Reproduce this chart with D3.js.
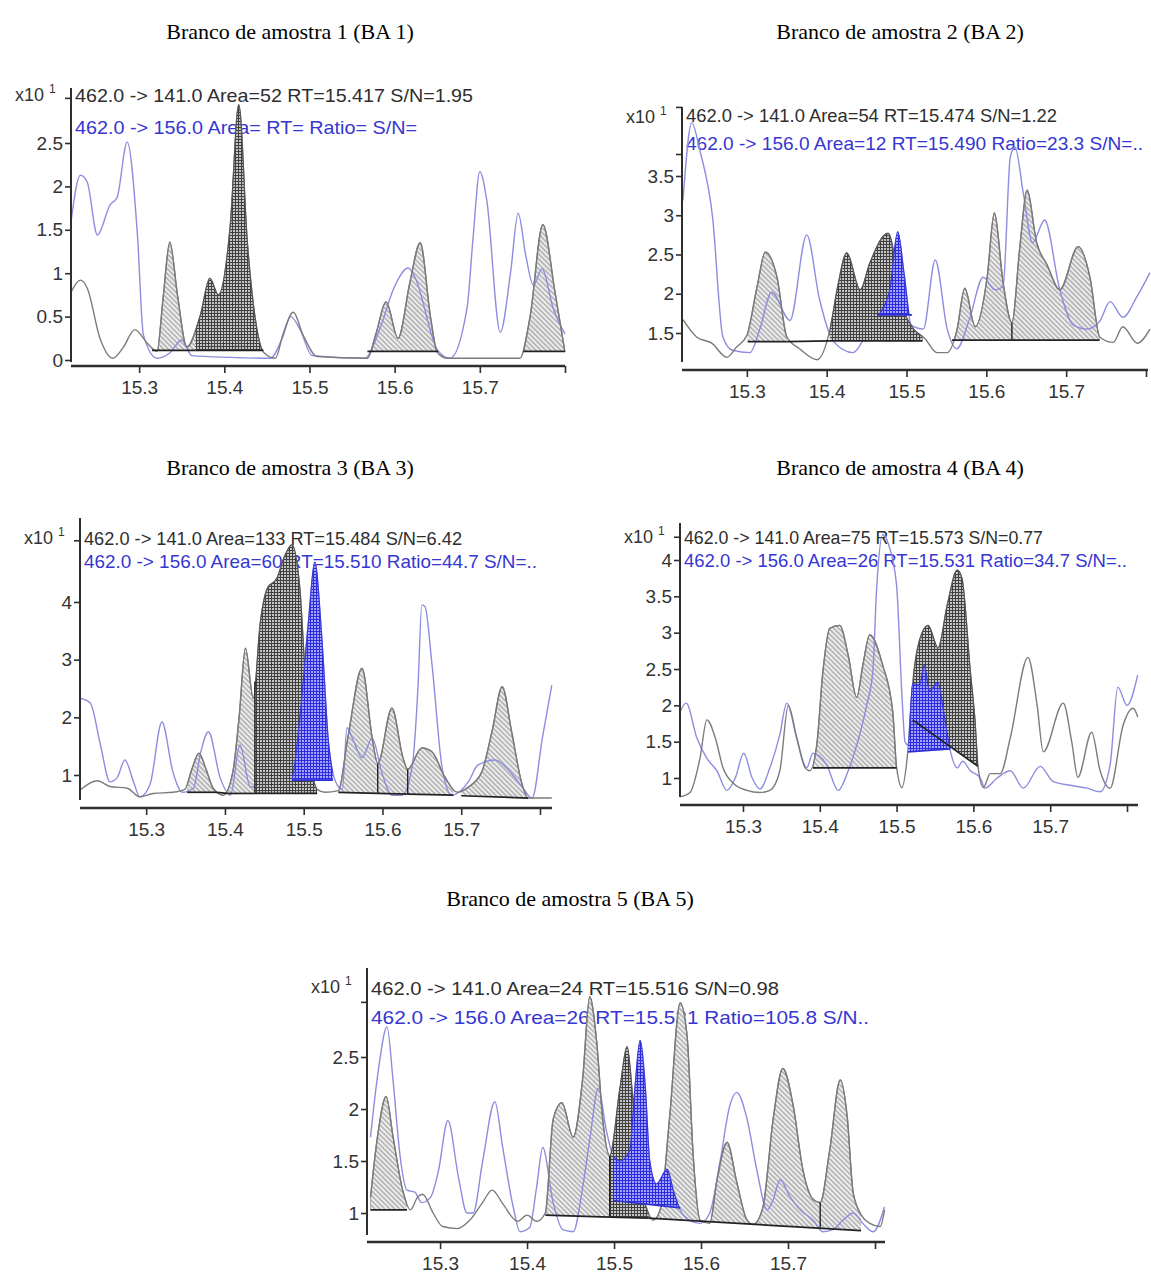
<!DOCTYPE html>
<html>
<head>
<meta charset="utf-8">
<script src="https://cdn.jsdelivr.net/npm/d3@7/dist/d3.min.js"></script>
<style>
  body { margin: 0; background: #fff; }
  svg { display: block; }
</style>
</head>
<body>
<svg id="chart" width="1151" height="1275"></svg>
<script>
(function (d3) {
  'use strict';

  // ---- data (RT in min, intensity in x10^1) ----
  var titles = ['Branco de amostra 1 (BA 1)', 'Branco de amostra 2 (BA 2)', 'Branco de amostra 3 (BA 3)',
                'Branco de amostra 4 (BA 4)', 'Branco de amostra 5 (BA 5)'];
  var head141 = ['462.0 -> 141.0 Area=52 RT=15.417 S/N=1.95',
                 '462.0 -> 141.0 Area=54 RT=15.474 S/N=1.22',
                 '462.0 -> 141.0 Area=133 RT=15.484 S/N=6.42',
                 '462.0 -> 141.0 Area=75 RT=15.573 S/N=0.77',
                 '462.0 -> 141.0 Area=24 RT=15.516 S/N=0.98'];
  var head156 = ['462.0 -> 156.0 Area= RT= Ratio= S/N=',
                 '462.0 -> 156.0 Area=12 RT=15.490 Ratio=23.3 S/N=..',
                 '462.0 -> 156.0 Area=60 RT=15.510 Ratio=44.7 S/N=..',
                 '462.0 -> 156.0 Area=26 RT=15.531 Ratio=34.7 S/N=..',
                 '462.0 -> 156.0 Area=26 RT=15.531  Ratio=105.8 S/N..'];

  var xTicks = [15.3, 15.4, 15.5, 15.6, 15.7];
  var xEndTick = 15.8;
  var xDomains = [[15.22, 15.8], [15.22, 15.8], [15.216, 15.8], [15.218, 15.8], [15.216, 15.8]];
  var yDomains = [[0, 2.5], [1.5, 3.5], [1, 4], [1, 4], [1, 2.5]];
  var yTicks = [[0, 0.5, 1, 1.5, 2, 2.5], [1.5, 2, 2.5, 3, 3.5], [1, 2, 3, 4],
                [1, 1.5, 2, 2.5, 3, 3.5, 4], [1, 1.5, 2, 2.5]];
  var topTicks = [[3.02], [3.78, 4.38], [5.07], [4.32], [3.03]];

  // BA 1
  var p1Gray = [[15.220,0.78],[15.231,0.92],[15.239,0.83],[15.254,0.25],[15.269,0.02],[15.281,0.14],[15.295,0.35],
    [15.309,0.20],[15.321,0.10],[15.328,0.70],[15.336,1.36],[15.345,0.75],[15.356,0.15],[15.372,0.52],[15.383,0.94],
    [15.393,0.75],[15.407,1.55],[15.417,2.94],[15.427,1.36],[15.438,0.37],[15.446,0.09],[15.460,0.02],[15.469,0.30],
    [15.481,0.55],[15.492,0.30],[15.509,0.04],[15.568,0.02],[15.578,0.30],[15.590,0.67],[15.604,0.25],[15.618,0.90],
    [15.630,1.35],[15.642,0.50],[15.650,0.09],[15.662,0.02],[15.747,0.02],[15.759,0.50],[15.774,1.56],[15.788,0.80],
    [15.800,0.09]];
  var p1Blue = [[15.220,1.59],[15.231,2.13],[15.239,2.05],[15.251,1.44],[15.266,1.79],[15.274,1.87],[15.286,2.51],
    [15.298,1.44],[15.305,0.29],[15.321,0.02],[15.336,0.08],[15.350,0.23],[15.362,0.05],[15.407,0.03],[15.454,0.02],
    [15.468,0.25],[15.478,0.50],[15.489,0.35],[15.503,0.05],[15.565,0.02],[15.583,0.37],[15.600,0.85],[15.616,1.06],
    [15.624,0.95],[15.650,0.12],[15.665,0.02],[15.685,0.60],[15.692,1.40],[15.700,2.17],[15.708,1.85],[15.724,0.32],
    [15.736,1.00],[15.745,1.69],[15.754,1.20],[15.763,0.86],[15.773,1.05],[15.786,0.60],[15.800,0.30]];
  var p1Spans = [[15.315,15.366,0.11,0.11,'light'],[15.366,15.446,0.11,0.11,'dark'],
    [15.568,15.651,0.10,0.10,'light'],[15.751,15.800,0.10,0.10,'light']];
  var p1Drops = [];

  // BA 2
  var p2Gray = [[15.220,1.67],[15.237,1.45],[15.256,1.37],[15.275,1.19],[15.287,1.32],[15.300,1.47],[15.313,2.10],
    [15.323,2.53],[15.338,2.20],[15.350,1.45],[15.366,1.30],[15.388,1.16],[15.404,1.54],[15.414,2.10],[15.425,2.52],
    [15.442,2.05],[15.454,2.39],[15.477,2.77],[15.495,1.83],[15.508,1.56],[15.523,1.43],[15.538,1.25],[15.551,1.25],
    [15.563,1.53],[15.573,2.07],[15.586,1.58],[15.601,2.21],[15.610,3.03],[15.621,2.14],[15.632,1.63],[15.642,2.60],
    [15.651,3.32],[15.663,2.65],[15.676,2.37],[15.692,2.05],[15.715,2.60],[15.730,2.20],[15.742,1.45],[15.759,1.38],
    [15.771,1.58],[15.789,1.37],[15.805,1.55]];
  var p2Blue = [[15.220,3.19],[15.231,4.18],[15.241,3.83],[15.257,2.98],[15.270,1.45],[15.282,1.28],[15.304,1.25],
    [15.316,1.54],[15.331,2.02],[15.354,1.66],[15.375,2.75],[15.391,1.93],[15.408,1.40],[15.433,1.25],[15.448,1.45],
    [15.465,1.72],[15.479,2.05],[15.489,2.79],[15.497,2.25],[15.506,1.60],[15.521,1.55],[15.536,2.43],[15.551,1.55],
    [15.563,1.30],[15.579,1.68],[15.596,2.21],[15.611,2.05],[15.621,2.10],[15.630,3.74],[15.636,3.87],[15.646,3.30],
    [15.658,2.65],[15.673,2.94],[15.692,2.05],[15.709,1.60],[15.726,1.55],[15.742,1.65],[15.755,1.90],[15.771,1.70],
    [15.789,1.97],[15.805,2.27]];
  var p2Spans = [[15.301,15.350,1.39,1.39,'light'],[15.350,15.404,1.39,1.40,'base'],[15.404,15.520,1.40,1.40,'dark'],
    [15.464,15.507,1.73,1.73,'blue'],[15.557,15.632,1.41,1.41,'light'],[15.632,15.742,1.41,1.41,'light']];
  var p2Drops = [[15.632,1.41]];

  // BA 3
  var p3Gray = [[15.216,0.74],[15.238,0.90],[15.254,0.80],[15.276,0.77],[15.292,0.62],[15.309,0.68],[15.334,0.70],
    [15.349,0.75],[15.358,1.10],[15.367,1.38],[15.376,1.10],[15.385,0.77],[15.398,0.65],[15.410,1.05],[15.418,2.00],
    [15.426,3.20],[15.436,2.33],[15.445,3.65],[15.454,4.24],[15.466,4.41],[15.476,4.80],[15.485,4.99],[15.495,4.24],
    [15.504,2.21],[15.511,1.05],[15.517,0.75],[15.527,0.70],[15.544,0.73],[15.556,1.64],[15.574,2.85],[15.587,1.64],
    [15.594,1.20],[15.612,2.16],[15.626,1.30],[15.632,1.10],[15.650,1.47],[15.663,1.40],[15.679,0.97],[15.695,0.70],
    [15.709,0.79],[15.726,1.05],[15.739,1.75],[15.752,2.53],[15.764,1.75],[15.777,0.85],[15.785,0.60],[15.815,0.60]];
  var p3Blue = [[15.216,2.33],[15.229,2.25],[15.242,1.52],[15.254,0.88],[15.263,0.95],[15.273,1.26],[15.284,0.88],
    [15.292,0.62],[15.305,0.84],[15.320,1.92],[15.334,1.05],[15.346,0.70],[15.360,0.77],[15.369,1.38],[15.379,1.75],
    [15.394,0.95],[15.407,0.65],[15.419,1.52],[15.432,0.80],[15.457,0.75],[15.485,0.95],[15.495,1.99],[15.506,3.65],
    [15.514,4.69],[15.523,3.37],[15.531,1.64],[15.540,0.90],[15.549,0.75],[15.555,1.82],[15.563,1.60],[15.574,1.30],
    [15.587,1.64],[15.599,1.05],[15.612,0.65],[15.625,0.65],[15.638,1.17],[15.645,2.50],[15.650,3.95],[15.654,3.92],
    [15.663,2.90],[15.676,1.10],[15.688,0.65],[15.709,0.88],[15.721,1.17],[15.743,1.26],[15.759,1.10],[15.777,0.80],
    [15.790,0.60],[15.803,1.64],[15.815,2.56]];
  var p3Spans = [[15.352,15.390,0.70,0.70,'light'],[15.390,15.403,0.70,0.68,'base'],[15.403,15.438,0.68,0.68,'light'],
    [15.438,15.517,0.68,0.68,'dark'],[15.485,15.537,0.91,0.91,'blue'],[15.544,15.594,0.70,0.68,'light'],
    [15.594,15.632,0.68,0.67,'light'],[15.632,15.690,0.67,0.65,'light'],[15.700,15.785,0.64,0.60,'light']];
  var p3Drops = [[15.438,0.68],[15.594,0.68],[15.632,0.67]];

  // BA 4
  var p4Gray = [[15.218,0.74],[15.231,0.80],[15.244,1.27],[15.253,1.80],[15.264,1.55],[15.274,1.14],[15.287,0.93],
    [15.305,0.83],[15.322,0.80],[15.335,0.83],[15.348,1.10],[15.359,2.00],[15.370,1.55],[15.381,1.14],[15.387,1.10],
    [15.396,1.45],[15.404,2.46],[15.413,3.06],[15.426,3.10],[15.437,2.69],[15.448,2.11],[15.456,2.55],[15.465,2.97],
    [15.482,2.55],[15.495,1.91],[15.500,1.15],[15.507,0.87],[15.514,1.30],[15.521,2.30],[15.530,2.90],[15.541,3.10],
    [15.554,2.79],[15.566,3.38],[15.579,3.86],[15.585,3.75],[15.596,2.46],[15.602,1.80],[15.606,1.16],[15.613,0.87],
    [15.622,1.06],[15.635,1.06],[15.648,1.55],[15.671,2.66],[15.683,2.00],[15.691,1.36],[15.717,2.03],[15.728,1.50],
    [15.736,1.01],[15.754,1.63],[15.765,1.10],[15.778,0.86],[15.795,1.73],[15.808,1.96],[15.814,1.84]];
  var p4Blue = [[15.218,1.91],[15.226,2.03],[15.240,1.55],[15.253,1.27],[15.266,1.10],[15.279,0.83],[15.290,1.00],
    [15.301,1.34],[15.312,1.00],[15.322,0.85],[15.335,1.14],[15.348,1.60],[15.357,2.03],[15.370,1.55],[15.383,1.14],
    [15.391,1.34],[15.409,1.18],[15.424,0.83],[15.437,1.10],[15.448,1.45],[15.461,2.00],[15.469,2.46],[15.474,3.60],
    [15.482,4.35],[15.490,4.20],[15.500,3.65],[15.507,2.13],[15.511,1.50],[15.515,1.45],[15.521,2.30],[15.530,2.28],
    [15.536,2.55],[15.543,2.20],[15.554,2.32],[15.560,2.00],[15.570,1.37],[15.579,1.14],[15.586,1.23],[15.596,1.10],
    [15.609,1.00],[15.615,0.86],[15.631,1.00],[15.648,1.10],[15.665,0.86],[15.687,1.16],[15.704,0.95],[15.726,0.90],
    [15.748,0.86],[15.765,0.81],[15.778,1.18],[15.788,2.25],[15.800,2.00],[15.814,2.42]];
  var p4Spans = [[15.391,15.500,1.14,1.14,'light'],[15.521,15.606,1.80,1.16,'dark'],[15.515,15.570,1.36,1.40,'blue']];
  var p4Drops = [];

  // BA 5
  var p5Gray = [[15.220,1.15],[15.228,1.73],[15.238,2.12],[15.246,1.73],[15.257,1.22],[15.266,1.03],[15.274,1.15],
    [15.280,1.18],[15.292,1.00],[15.303,0.87],[15.320,0.85],[15.334,0.93],[15.348,1.09],[15.360,1.22],[15.372,1.09],
    [15.389,0.92],[15.400,0.98],[15.411,0.92],[15.421,1.00],[15.430,1.90],[15.440,2.06],[15.453,1.73],[15.464,2.30],
    [15.472,3.08],[15.480,2.65],[15.487,1.90],[15.495,1.55],[15.507,2.21],[15.515,2.60],[15.522,2.05],[15.530,1.30],
    [15.538,1.03],[15.545,0.93],[15.553,1.03],[15.564,1.93],[15.576,3.02],[15.584,2.70],[15.591,1.55],[15.599,0.93],
    [15.610,0.90],[15.618,1.30],[15.630,1.68],[15.641,1.30],[15.653,0.93],[15.660,0.89],[15.671,1.05],[15.683,1.91],
    [15.694,2.39],[15.706,2.03],[15.717,1.42],[15.729,1.13],[15.737,1.10],[15.748,1.61],[15.760,2.28],[15.768,1.93],
    [15.775,1.19],[15.785,0.97],[15.794,0.90],[15.806,0.87],[15.811,1.03]];
  var p5Blue = [[15.220,1.73],[15.229,2.37],[15.239,2.79],[15.246,2.27],[15.254,1.55],[15.262,1.22],[15.271,1.20],
    [15.279,1.10],[15.289,1.15],[15.298,1.40],[15.309,1.89],[15.321,1.35],[15.331,1.00],[15.338,1.00],[15.349,1.50],
    [15.363,2.07],[15.372,1.63],[15.384,1.06],[15.392,0.82],[15.403,0.86],[15.411,1.25],[15.418,1.63],[15.430,1.10],
    [15.441,0.84],[15.453,0.82],[15.464,1.25],[15.472,1.70],[15.482,2.20],[15.491,1.80],[15.499,1.55],[15.507,1.50],
    [15.518,1.60],[15.524,2.20],[15.530,2.66],[15.536,2.20],[15.541,1.50],[15.549,1.28],[15.561,1.42],[15.568,1.22],
    [15.576,1.03],[15.587,0.93],[15.599,0.90],[15.610,1.00],[15.622,1.50],[15.633,2.03],[15.641,2.16],[15.653,1.90],
    [15.664,1.42],[15.676,1.03],[15.683,1.13],[15.691,1.32],[15.702,1.16],[15.714,1.03],[15.729,0.93],[15.740,0.82],
    [15.752,0.84],[15.763,0.93],[15.775,1.00],[15.786,0.90],[15.798,0.82],[15.811,1.06]];
  var p5Spans = [[15.220,15.262,1.03,1.03,'light'],[15.421,15.495,0.98,0.96,'light'],[15.495,15.540,0.96,0.95,'dark'],
    [15.499,15.576,1.12,1.05,'blue'],[15.540,15.784,0.95,0.83,'light']];
  var p5Drops = [[15.495,0.96],[15.737,0.86]];

  var grays = [p1Gray, p2Gray, p3Gray, p4Gray, p5Gray];
  var blues = [p1Blue, p2Blue, p3Blue, p4Blue, p5Blue];
  var spans = [p1Spans, p2Spans, p3Spans, p4Spans, p5Spans];
  var drops = [p1Drops, p2Drops, p3Drops, p4Drops, p5Drops];

  // ---- page layout (pixels) ----
  var layout = [
    {ax: 71,  top: 88,  bot: 362,  xAxisY: 366,  xEnd: 565,  xr: [71, 565],   yr: [360, 143],
     titleX: 290, titleY: 31,  lblY: 95,  h1: 95,  h2: 127,  w1: 398, w2: 342},
    {ax: 682, top: 107, bot: 362,  xAxisY: 370,  xEnd: 1148, xr: [683, 1146], yr: [333, 176],
     titleX: 900, titleY: 31,  lblY: 117, h1: 115, h2: 143,  w1: 371, w2: 457},
    {ax: 80,  top: 518, bot: 800,  xAxisY: 808,  xEnd: 552,  xr: [80, 540],   yr: [775, 602],
     titleX: 290, titleY: 467, lblY: 538, h1: 538, h2: 561,  w1: 378, w2: 453},
    {ax: 680, top: 523, bot: 797,  xAxisY: 805,  xEnd: 1138, xr: [680, 1127], yr: [778, 560],
     titleX: 900, titleY: 467, lblY: 537, h1: 537, h2: 560,  w1: 359, w2: 443},
    {ax: 367, top: 968, bot: 1235, xAxisY: 1242, xEnd: 885,  xr: [367, 875],  yr: [1213, 1057],
     titleX: 570, titleY: 898, lblY: 987, h1: 988, h2: 1017, w1: 408, w2: 498}
  ];

  var SANS = '"Liberation Sans", Arial, sans-serif',
      SERIF = '"Liberation Serif", "Times New Roman", serif',
      grayCol = '#7b7b7b',
      blueCol = '#8d8de0',
      blueInk = '#3636d2',
      ink = '#2e2e2e';

  var svg = d3.select('#chart');
  var defs = svg.append('defs');

  // Hatch patterns: light diagonal, dark cross-hatch, blue cross-hatch
  var pl = defs.append('pattern').attr('id', 'hatchLight').attr('patternUnits', 'userSpaceOnUse')
    .attr('width', 3.5).attr('height', 3.5).attr('patternTransform', 'rotate(-45)');
  pl.append('rect').attr('width', 3.5).attr('height', 3.5).attr('fill', '#eeeeee');
  pl.append('line').attr('x1', 1.75).attr('y1', 0).attr('x2', 1.75).attr('y2', 3.5)
    .attr('stroke', '#8e8e8e').attr('stroke-width', 1);

  function crossPattern(id, bg, fg) {
    var p = defs.append('pattern').attr('id', id).attr('patternUnits', 'userSpaceOnUse')
      .attr('width', 3).attr('height', 3);
    p.append('rect').attr('width', 3).attr('height', 3).attr('fill', bg);
    p.append('path').attr('d', 'M0,1.5H3M1.5,0V3').attr('stroke', fg).attr('stroke-width', 1);
  }
  crossPattern('hatchDark', '#c4c4c4', '#404040');
  crossPattern('hatchBlue', '#a4a4ff', '#2c2ce0');

  var fills = {light: 'url(#hatchLight)', dark: 'url(#hatchDark)', blue: 'url(#hatchBlue)'};
  var edges = {light: grayCol, dark: '#555', blue: '#3a3ad8'};

  function valueAt(trace, rt) {
    for (var i = 1; i < trace.length; i += 1) {
      if (trace[i][0] >= rt) {
        var a = trace[i - 1], b = trace[i], t = (rt - a[0]) / (b[0] - a[0]);
        return a[1] + t * (b[1] - a[1]);
      }
    }
    return trace[trace.length - 1][1];
  }

  layout.forEach(function (L, k) {
    var x = d3.scaleLinear().domain(xDomains[k]).range(L.xr);
    var y = d3.scaleLinear().domain(yDomains[k]).range(L.yr);
    var g = svg.append('g').attr('class', 'panel');

    // Title above the panel
    g.append('text')
      .attr('x', L.titleX).attr('y', L.titleY).attr('dy', '0.35em')
      .attr('text-anchor', 'middle')
      .style('font-family', SERIF).style('font-size', '22px')
      .attr('fill', '#000')
      .text(titles[k]);

    // Header lines (transition info)
    g.append('text')
      .attr('x', L.ax + 4).attr('y', L.h1).attr('dy', '0.35em')
      .attr('textLength', L.w1).attr('lengthAdjust', 'spacingAndGlyphs')
      .style('font-family', SANS).style('font-size', '19px')
      .attr('fill', ink)
      .text(head141[k]);
    g.append('text')
      .attr('x', L.ax + 4).attr('y', L.h2).attr('dy', '0.35em')
      .attr('textLength', L.w2).attr('lengthAdjust', 'spacingAndGlyphs')
      .style('font-family', SANS).style('font-size', '19px')
      .attr('fill', blueInk)
      .text(head156[k]);

    var line = d3.line()
      .x(function (d) { return x(d[0]); })
      .y(function (d) { return y(d[1]); })
      .curve(d3.curveMonotoneX);
    var area = d3.area()
      .x(function (d) { return x(d[0]); })
      .y0(L.bot + 60)
      .y1(function (d) { return y(d[1]); })
      .curve(d3.curveMonotoneX);

    // Region between a (linear) baseline and the trace, via a clip polygon
    function drawSpan(s, i) {
      var x0 = x(s[0]), x1 = x(s[1]), y0 = y(s[2]), y1 = y(s[3]);
      var cid = 'clip' + k + '_' + i;
      defs.append('clipPath').attr('id', cid).append('path')
        .attr('d', 'M' + x0 + ',' + y0 + 'L' + x1 + ',' + y1 +
                   'L' + x1 + ',' + (L.top - 80) + 'L' + x0 + ',' + (L.top - 80) + 'Z');
      g.append('path')
        .datum(s[4] === 'blue' ? blues[k] : grays[k])
        .attr('clip-path', 'url(#' + cid + ')')
        .attr('d', area)
        .attr('fill', fills[s[4]])
        .attr('stroke', edges[s[4]])
        .attr('stroke-width', 1.2);
    }

    var sp = spans[k];
    sp.forEach(function (s, i) { if (s[4] === 'light') { drawSpan(s, i); } });

    // Traces
    g.append('path').datum(blues[k])
      .attr('d', line).attr('fill', 'none')
      .attr('stroke', blueCol).attr('stroke-width', 1.4);
    g.append('path').datum(grays[k])
      .attr('d', line).attr('fill', 'none')
      .attr('stroke', grayCol).attr('stroke-width', 1.4);

    sp.forEach(function (s, i) { if (s[4] === 'dark') { drawSpan(s, i); } });
    sp.forEach(function (s, i) { if (s[4] === 'blue') { drawSpan(s, i); } });

    // Integration baselines
    g.selectAll('.baseline')
      .data(sp)
      .enter().append('line')
        .attr('class', 'baseline')
        .attr('x1', function (s) { return x(s[0]); })
        .attr('y1', function (s) { return y(s[2]); })
        .attr('x2', function (s) { return x(s[1]); })
        .attr('y2', function (s) { return y(s[3]); })
        .attr('stroke', function (s) { return s[4] === 'blue' ? '#2f2fd6' : '#222'; })
        .attr('stroke-width', 1.7);

    // Peak split drop lines
    g.selectAll('.drop')
      .data(drops[k])
      .enter().append('line')
        .attr('class', 'drop')
        .attr('x1', function (d) { return x(d[0]); })
        .attr('x2', function (d) { return x(d[0]); })
        .attr('y1', function (d) { return y(d[1]); })
        .attr('y2', function (d) { return y(valueAt(grays[k], d[0])); })
        .attr('stroke', '#222').attr('stroke-width', 1.4);

    // Axes
    var xAxis = d3.axisBottom(x)
      .tickValues(xTicks.concat([xEndTick]))
      .tickSize(7).tickSizeOuter(0).tickPadding(8)
      .tickFormat(function (d) { return d === xEndTick ? '' : d3.format('.1f')(d); });
    var gx = g.append('g').attr('transform', 'translate(0,' + L.xAxisY + ')').call(xAxis);
    gx.select('.domain').remove();
    gx.selectAll('line').attr('stroke', ink).attr('stroke-width', 1.6);
    gx.selectAll('text').style('font-family', SANS).style('font-size', '19px').attr('fill', '#333');
    g.append('line')
      .attr('x1', L.ax).attr('x2', L.xEnd).attr('y1', L.xAxisY).attr('y2', L.xAxisY)
      .attr('stroke', ink).attr('stroke-width', 2.6);

    var tops = topTicks[k];
    var yAxis = d3.axisLeft(y)
      .tickValues(yTicks[k].concat(tops))
      .tickSize(6).tickSizeOuter(0).tickPadding(2)
      .tickFormat(function (d) { return tops.indexOf(d) >= 0 ? '' : String(d); });
    var gy = g.append('g').attr('transform', 'translate(' + L.ax + ',0)').call(yAxis);
    gy.select('.domain').remove();
    gy.selectAll('line').attr('stroke', ink).attr('stroke-width', 1.6);
    gy.selectAll('text').style('font-family', SANS).style('font-size', '19px').attr('fill', '#333');
    g.append('line')
      .attr('x1', L.ax).attr('x2', L.ax).attr('y1', L.top).attr('y2', L.bot)
      .attr('stroke', ink).attr('stroke-width', 2);

    // Scale factor label "x10^1"
    g.append('text')
      .attr('x', L.ax - 27).attr('y', L.lblY).attr('dy', '0.35em')
      .attr('text-anchor', 'end')
      .style('font-family', SANS).style('font-size', '18px').attr('fill', '#333')
      .text('x10');
    g.append('text')
      .attr('x', L.ax - 22).attr('y', L.lblY - 6).attr('dy', '0.35em')
      .style('font-family', SANS).style('font-size', '12px').attr('fill', '#333')
      .text('1');
  });
}(d3));
</script>
</body>
</html>
